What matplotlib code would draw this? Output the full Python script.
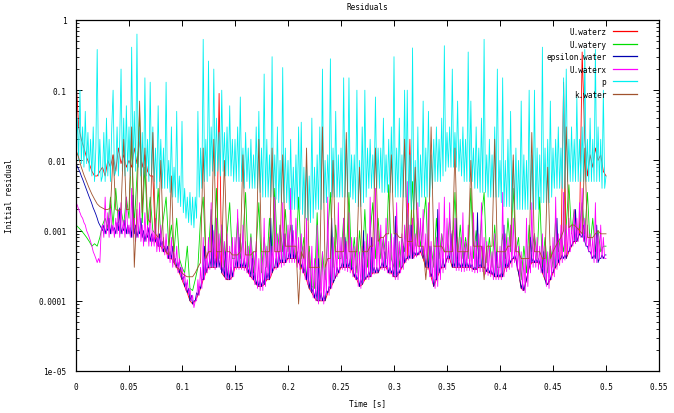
import numpy as np
import matplotlib
matplotlib.use("Agg")
import matplotlib.pyplot as plt
from matplotlib.ticker import FixedLocator, LogLocator, NullFormatter

# time span (s); each series is sampled uniformly over it
t_start, t_end = 0.0, 0.5

U_waterz = [
    0.15, 0.03, 0.02, 0.015, 0.011, 0.009, 0.007, 0.006, 0.006, 0.007,
    0.008, 0.006, 0.01, 0.008, 0.012, 0.007, 0.015, 0.009, 0.012, 0.008,
    0.01, 0.008, 0.015, 0.009, 0.02, 0.008, 0.012, 0.007, 0.006, 0.006,
    0.0007, 0.0006, 0.0006, 0.0005, 0.0005, 0.0004, 0.0004, 0.00035, 0.0003, 0.00025,
    0.0002, 0.00016, 0.00013, 0.0001, 0.00009, 0.0001, 0.00012, 0.00015, 0.0002, 0.00025,
    0.0003, 0.0003, 0.0003, 0.0003, 0.09, 0.00025, 0.00022, 0.0002, 0.0002, 0.00022,
    0.0003, 0.0003, 0.0003, 0.0003, 0.0003, 0.00025, 0.00022, 0.0002, 0.00017, 0.00016,
    0.00016, 0.00017, 0.0002, 0.0002, 0.00025, 0.0003, 0.0003, 0.00035, 0.00035, 0.00035,
    0.0004, 0.0004, 0.0004, 0.0004, 0.00035, 0.0003, 0.00025, 0.0002, 0.00015, 0.00013,
    0.00011, 0.0001, 0.0001, 0.0001, 0.0001, 0.00013, 0.00015, 0.00018, 0.00022, 0.00025,
    0.0003, 0.0003, 0.0003, 0.0003, 0.00028, 0.00022, 0.0002, 0.00016, 0.00017, 0.0002,
    0.00022, 0.00022, 0.00025, 0.00025, 0.00025, 0.0003, 0.0003, 0.0003, 0.00025, 0.00025,
    0.00022, 0.00022, 0.00025, 0.0003, 0.00035, 0.0004, 0.02, 0.0004, 0.00045, 0.00045,
    0.0005, 0.0004, 0.0003, 0.0003, 0.00022, 0.00016, 0.0002, 0.00025, 0.0003, 0.0003,
    0.0004, 0.0004, 0.0003, 0.0003, 0.0003, 0.0003, 0.0003, 0.0003, 0.0003, 0.0003,
    0.00028, 0.00028, 0.0003, 0.0003, 0.0003, 0.00026, 0.00025, 0.00024, 0.00022, 0.00022,
    0.00022, 0.00022, 0.0003, 0.0003, 0.00035, 0.0004, 0.0004, 0.00025, 0.00015, 0.00014,
    0.0002, 0.0003, 0.00035, 0.00035, 0.00035, 0.00035, 0.00025, 0.0002, 0.00017, 0.0002,
    0.00025, 0.0003, 0.00035, 0.0004, 0.13, 0.0004, 0.0005, 0.0006, 0.0007, 0.0007,
    0.0009, 0.35, 0.02, 0.006, 0.012, 0.008, 0.015, 0.01, 0.012, 0.007,
    0.006]

U_watery = [
    0.0012, 0.0011, 0.001, 0.0009, 0.0008, 0.0007, 0.0006, 0.00065, 0.0006, 0.0008,
    0.0012, 0.0015, 0.0011, 0.003, 0.0012, 0.004, 0.0013, 0.002, 0.0012, 0.003,
    0.0015, 0.02, 0.0012, 0.006, 0.05, 0.0013, 0.008, 0.0011, 0.003, 0.001,
    0.0009, 0.004, 0.0008, 0.0015, 0.003, 0.0006, 0.0012, 0.0005, 0.0015, 0.0004,
    0.0003, 0.00025, 0.0006, 0.00015, 0.00014, 0.0002, 0.0003, 0.0015, 0.003, 0.0004,
    0.0005, 0.002, 0.0004, 0.004, 0.0004, 0.0012, 0.0003, 0.0009, 0.0025, 0.0004,
    0.0004, 0.0015, 0.0004, 0.0008, 0.0035, 0.0003, 0.0009, 0.00025, 0.0006, 0.0025,
    0.00025, 0.0008, 0.0003, 0.0015, 0.0005, 0.004, 0.0005, 0.0012, 0.0005, 0.002,
    0.0005, 0.0012, 0.0005, 0.0004, 0.003, 0.0004, 0.0008, 0.0002, 0.0006, 0.00016,
    0.00015, 0.0018, 0.00014, 0.0005, 0.0002, 0.0009, 0.0035, 0.0003, 0.0012, 0.0004,
    0.0004, 0.0015, 0.0004, 0.0035, 0.0003, 0.0008, 0.00025, 0.001, 0.0003, 0.002,
    0.0003, 0.0009, 0.0025, 0.0004, 0.0015, 0.0004, 0.0008, 0.0004, 0.0045, 0.0004,
    0.0003, 0.0012, 0.0003, 0.0008, 0.0005, 0.002, 0.0006, 0.005, 0.0006, 0.0015,
    0.0006, 0.0012, 0.003, 0.0003, 0.0006, 0.0003, 0.0015, 0.0004, 0.0009, 0.0005,
    0.0005, 0.0015, 0.0005, 0.0035, 0.0004, 0.0012, 0.0004, 0.0008, 0.0004, 0.004,
    0.0004, 0.001, 0.0004, 0.0015, 0.0035, 0.00035, 0.0008, 0.0003, 0.0012, 0.0003,
    0.0003, 0.0009, 0.0004, 0.0015, 0.0005, 0.004, 0.0005, 0.0008, 0.0002, 0.0006,
    0.00025, 0.0012, 0.0005, 0.0009, 0.0004, 0.003, 0.0003, 0.0008, 0.00025, 0.0006,
    0.0003, 0.0015, 0.0005, 0.0009, 0.0005, 0.0012, 0.0045, 0.0009, 0.002, 0.001,
    0.0011, 0.0025, 0.0009, 0.0035, 0.0006, 0.0015, 0.0005, 0.001, 0.0005, 0.0006,
    0.0006]

epsilon_water = [
    0.009, 0.0082, 0.0075, 0.0068, 0.006, 0.0054, 0.0048, 0.0043, 0.0038, 0.0034,
    0.003, 0.0027, 0.0024, 0.0021, 0.0019, 0.0017, 0.0015, 0.0013, 0.0012, 0.0011,
    0.001, 0.0012, 0.0009, 0.0011, 0.001, 0.0015, 0.0009, 0.0012, 0.001, 0.0011,
    0.0009, 0.0013, 0.001, 0.0021, 0.0009, 0.0011, 0.001, 0.0014, 0.0009, 0.0012,
    0.0009, 0.0011, 0.0008, 0.0032, 0.0009, 0.0012, 0.0008, 0.001, 0.0009, 0.0015,
    0.0008, 0.001, 0.0007, 0.0009, 0.0008, 0.0011, 0.0007, 0.0009, 0.0007, 0.0008,
    0.0007, 0.0008, 0.0006, 0.0009, 0.0006, 0.0007, 0.0005, 0.0006, 0.0005, 0.0006,
    0.0004, 0.0005, 0.0004, 0.0006, 0.00035, 0.0004, 0.0003, 0.00035, 0.00025, 0.0003,
    0.0002, 0.00022, 0.00016, 0.00018, 0.00013, 0.00015, 0.0001, 0.00012, 0.00009, 0.0001,
    0.0001, 0.00013, 0.00012, 0.00016, 0.00015, 0.0002, 0.0002, 0.0006, 0.00025, 0.0003,
    0.0003, 0.0004, 0.0003, 0.0012, 0.0003, 0.0004, 0.0003, 0.0005, 0.0003, 0.0004,
    0.00025, 0.0003, 0.00022, 0.0005, 0.0002, 0.0003, 0.0002, 0.0003, 0.00022, 0.0003,
    0.0003, 0.0004, 0.0003, 0.0008, 0.0003, 0.00035, 0.0003, 0.0004, 0.0003, 0.00035,
    0.00025, 0.0003, 0.00022, 0.0004, 0.0002, 0.00025, 0.00017, 0.0002, 0.00016, 0.0002,
    0.00016, 0.0002, 0.00017, 0.0003, 0.0002, 0.00025, 0.0002, 0.0015, 0.00025, 0.0003,
    0.0003, 0.0004, 0.0003, 0.0005, 0.00035, 0.0004, 0.00035, 0.0009, 0.00035, 0.0004,
    0.0004, 0.0005, 0.0004, 0.0012, 0.0004, 0.0005, 0.0004, 0.0005, 0.00035, 0.0004,
    0.0003, 0.00035, 0.00025, 0.0003, 0.0002, 0.0003, 0.00015, 0.0002, 0.00013, 0.00015,
    0.00011, 0.00014, 0.0001, 0.0004, 0.0001, 0.00013, 0.0001, 0.00012, 0.0001, 0.00014,
    0.00013, 0.00016, 0.00015, 0.0015, 0.00018, 0.0002, 0.00022, 0.0003, 0.00025, 0.0003,
    0.0003, 0.00035, 0.0003, 0.0008, 0.0003, 0.00035, 0.0003, 0.0004, 0.00028, 0.0003,
    0.00022, 0.00025, 0.0002, 0.00022, 0.00016, 0.0002, 0.00017, 0.001, 0.0002, 0.00022,
    0.00022, 0.00026, 0.00022, 0.0008, 0.00025, 0.0003, 0.00025, 0.0003, 0.00025, 0.0003,
    0.0003, 0.00035, 0.0003, 0.0005, 0.0003, 0.00032, 0.00025, 0.0003, 0.00025, 0.00028,
    0.00022, 0.0016, 0.00022, 0.00026, 0.00025, 0.0003, 0.0003, 0.0006, 0.00035, 0.0004,
    0.0004, 0.00045, 0.0004, 0.0012, 0.0004, 0.0005, 0.00045, 0.0005, 0.00045, 0.0005,
    0.0005, 0.0006, 0.0004, 0.0005, 0.0003, 0.0004, 0.0003, 0.0006, 0.00022, 0.00025,
    0.00016, 0.0002, 0.0002, 0.002, 0.00025, 0.0003, 0.0003, 0.0004, 0.0003, 0.00035,
    0.0004, 0.00045, 0.0004, 0.0009, 0.0003, 0.00035, 0.0003, 0.0015, 0.0003, 0.00035,
    0.0003, 0.00035, 0.0003, 0.0005, 0.0003, 0.00035, 0.0003, 0.00035, 0.0003, 0.00033,
    0.00028, 0.0003, 0.00028, 0.0018, 0.0003, 0.00033, 0.0003, 0.0006, 0.0003, 0.0003,
    0.00026, 0.0003, 0.00025, 0.00028, 0.00024, 0.00026, 0.00022, 0.0005, 0.00022, 0.00024,
    0.00022, 0.00025, 0.00022, 0.0012, 0.0003, 0.00035, 0.0003, 0.0004, 0.00035, 0.0004,
    0.0004, 0.00045, 0.0004, 0.0003, 0.00025, 0.0002, 0.00015, 0.00018, 0.00014, 0.00017,
    0.0002, 0.00025, 0.0003, 0.0008, 0.00035, 0.0004, 0.00035, 0.0004, 0.00035, 0.0004,
    0.00035, 0.0003, 0.00025, 0.0005, 0.0002, 0.00017, 0.00017, 0.0002, 0.0002, 0.00025,
    0.00025, 0.0003, 0.0003, 0.0015, 0.00035, 0.0004, 0.0004, 0.00045, 0.0004, 0.00045,
    0.0004, 0.0005, 0.0005, 0.0006, 0.0006, 0.0007, 0.0007, 0.002, 0.0007, 0.0008,
    0.0009, 0.00085, 0.0008, 0.0012, 0.0007, 0.0006, 0.0006, 0.0005, 0.0005, 0.00045,
    0.0004, 0.00045, 0.0004, 0.0012, 0.00035, 0.0004, 0.0004, 0.00045, 0.0004, 0.00045,
    0.00045]

U_waterx = [
    0.0025, 0.0023, 0.002, 0.0018, 0.0016, 0.0015, 0.0013, 0.0012, 0.001, 0.0009,
    0.0008, 0.0007, 0.0006, 0.0005, 0.00045, 0.0004, 0.00035, 0.0004, 0.00035, 0.001,
    0.0012, 0.0008, 0.003, 0.0009, 0.0018, 0.0008, 0.0025, 0.0009, 0.0012, 0.0008,
    0.0015, 0.0009, 0.002, 0.0008, 0.0025, 0.0009, 0.0014, 0.0008, 0.003, 0.0009,
    0.0012, 0.0008, 0.004, 0.0008, 0.0015, 0.0007, 0.002, 0.0008, 0.0025, 0.0007,
    0.0012, 0.0006, 0.0018, 0.0007, 0.0012, 0.0006, 0.002, 0.0006, 0.001, 0.0006,
    0.0015, 0.0005, 0.0009, 0.0005, 0.0012, 0.0005, 0.0008, 0.00045, 0.0009, 0.0004,
    0.0006, 0.00035, 0.0008, 0.0003, 0.0005, 0.0003, 0.0006, 0.00025, 0.0004, 0.00022,
    0.0003, 0.00018, 0.00025, 0.00014, 0.0002, 0.00012, 0.00015, 0.0001, 0.00012, 0.00008,
    0.0001, 0.0001, 0.0002, 0.00012, 0.0003, 0.00015, 0.0008, 0.0002, 0.0005, 0.00025,
    0.0008, 0.00028, 0.0025, 0.0003, 0.001, 0.00028, 0.0015, 0.0003, 0.0009, 0.00028,
    0.0012, 0.00024, 0.0007, 0.0002, 0.0009, 0.0002, 0.0006, 0.0002, 0.0008, 0.00022,
    0.0008, 0.00028, 0.002, 0.00028, 0.0009, 0.00028, 0.0012, 0.00027, 0.0007, 0.00025,
    0.0006, 0.00022, 0.0008, 0.0002, 0.0005, 0.00017, 0.0007, 0.00015, 0.0004, 0.00014,
    0.0005, 0.00014, 0.0015, 0.00016, 0.0006, 0.0002, 0.0008, 0.00022, 0.0006, 0.00027,
    0.003, 0.00028, 0.0009, 0.0003, 0.0012, 0.0003, 0.0025, 0.00032, 0.0009, 0.00035,
    0.0012, 0.00035, 0.004, 0.00035, 0.001, 0.00035, 0.0015, 0.0003, 0.0008, 0.00028,
    0.0009, 0.00025, 0.0006, 0.0002, 0.0015, 0.00017, 0.0005, 0.00014, 0.0006, 0.00011,
    0.0004, 0.0001, 0.0012, 0.00009, 0.0003, 0.0001, 0.0005, 0.00009, 0.0003, 0.00012,
    0.003, 0.00012, 0.0005, 0.00015, 0.0008, 0.0002, 0.0006, 0.00022, 0.0025, 0.00025,
    0.0008, 0.00028, 0.0015, 0.00027, 0.0007, 0.00026, 0.0018, 0.00025, 0.0008, 0.00022,
    0.0006, 0.0002, 0.0008, 0.00016, 0.0005, 0.00015, 0.0006, 0.00018, 0.0007, 0.0002,
    0.0009, 0.0002, 0.003, 0.00022, 0.0008, 0.00024, 0.004, 0.00025, 0.001, 0.00027,
    0.0012, 0.00028, 0.0008, 0.00027, 0.0015, 0.00025, 0.0007, 0.00024, 0.0009, 0.00022,
    0.0008, 0.0002, 0.0025, 0.0002, 0.0007, 0.00025, 0.0009, 0.00028, 0.0012, 0.00035,
    0.005, 0.00038, 0.0012, 0.0004, 0.0015, 0.0004, 0.0009, 0.00042, 0.0025, 0.00045,
    0.0015, 0.00045, 0.002, 0.00035, 0.0009, 0.00028, 0.0025, 0.00022, 0.0007, 0.00018,
    0.0006, 0.00015, 0.0008, 0.00016, 0.0025, 0.0002, 0.0009, 0.00025, 0.003, 0.00028,
    0.0015, 0.00035, 0.0025, 0.00035, 0.001, 0.0003, 0.0015, 0.00027, 0.0008, 0.00027,
    0.0008, 0.00026, 0.0018, 0.00026, 0.0007, 0.00027, 0.0012, 0.00027, 0.0006, 0.00026,
    0.0018, 0.00025, 0.0007, 0.00025, 0.0009, 0.00026, 0.0025, 0.00026, 0.0008, 0.00024,
    0.0007, 0.00023, 0.0006, 0.00022, 0.0005, 0.0002, 0.0009, 0.0002, 0.0005, 0.0002,
    0.0006, 0.0002, 0.0035, 0.00022, 0.0009, 0.00026, 0.0008, 0.00028, 0.0012, 0.0003,
    0.0015, 0.00035, 0.0008, 0.00028, 0.0006, 0.0002, 0.0005, 0.00014, 0.0004, 0.00013,
    0.0015, 0.00016, 0.0006, 0.00025, 0.0025, 0.0003, 0.0009, 0.0003, 0.0008, 0.00028,
    0.0006, 0.00025, 0.0009, 0.00022, 0.0006, 0.00016, 0.0005, 0.00015, 0.0006, 0.0002,
    0.0008, 0.00022, 0.003, 0.00028, 0.0009, 0.00032, 0.0012, 0.00035, 0.0035, 0.00038,
    0.0012, 0.00045, 0.0015, 0.0005, 0.0012, 0.0006, 0.002, 0.00065, 0.0015, 0.0007,
    0.0025, 0.0008, 0.004, 0.0007, 0.0015, 0.0006, 0.0012, 0.0005, 0.0009, 0.0004,
    0.0008, 0.00035, 0.0025, 0.00035, 0.0009, 0.00038, 0.0012, 0.0004, 0.0008, 0.0004,
    0.0004]

p = [
    0.015, 0.04, 0.01, 0.1, 0.009, 0.03, 0.008, 0.05, 0.009, 0.025,
    0.007, 0.02, 0.006, 0.03, 0.005, 0.015, 0.38, 0.006, 0.02, 0.005,
    0.006, 0.025, 0.005, 0.04, 0.006, 0.02, 0.005, 0.03, 0.1, 0.006,
    0.007, 0.03, 0.006, 0.02, 0.2, 0.007, 0.04, 0.006, 0.06, 0.007,
    0.03, 0.006, 0.41, 0.008, 0.05, 0.007, 0.63, 0.008, 0.03, 0.006,
    0.025, 0.005, 0.15, 0.006, 0.02, 0.005, 0.13, 0.006, 0.03, 0.005,
    0.015, 0.004, 0.06, 0.005, 0.02, 0.004, 0.015, 0.004, 0.13, 0.004,
    0.01, 0.0035, 0.03, 0.003, 0.008, 0.003, 0.05, 0.0025, 0.006, 0.0022,
    0.036, 0.0018, 0.004, 0.0015, 0.003, 0.0013, 0.0035, 0.0012, 0.003, 0.0011,
    0.003, 0.0015, 0.05, 0.003, 0.015, 0.004, 0.53, 0.005, 0.02, 0.005,
    0.26, 0.006, 0.03, 0.007, 0.2, 0.006, 0.04, 0.007, 0.025, 0.006,
    0.1, 0.007, 0.025, 0.006, 0.03, 0.006, 0.06, 0.006, 0.02, 0.005,
    0.02, 0.005, 0.03, 0.005, 0.08, 0.005, 0.015, 0.004, 0.025, 0.005,
    0.015, 0.004, 0.02, 0.004, 0.012, 0.004, 0.03, 0.004, 0.05, 0.0035,
    0.015, 0.003, 0.17, 0.003, 0.02, 0.003, 0.012, 0.003, 0.3, 0.003,
    0.012, 0.0028, 0.03, 0.0025, 0.01, 0.0025, 0.21, 0.0025, 0.015, 0.0025,
    0.01, 0.002, 0.02, 0.002, 0.008, 0.002, 0.012, 0.002, 0.03, 0.002,
    0.035, 0.0017, 0.008, 0.0015, 0.01, 0.0014, 0.006, 0.0013, 0.04, 0.0015,
    0.008, 0.002, 0.012, 0.002, 0.03, 0.002, 0.2, 0.0025, 0.01, 0.0025,
    0.012, 0.003, 0.28, 0.003, 0.015, 0.003, 0.05, 0.003, 0.012, 0.003,
    0.015, 0.003, 0.15, 0.003, 0.02, 0.003, 0.15, 0.003, 0.012, 0.0028,
    0.012, 0.0025, 0.1, 0.0022, 0.01, 0.0022, 0.03, 0.0025, 0.1, 0.003,
    0.015, 0.004, 0.02, 0.004, 0.012, 0.004, 0.08, 0.004, 0.015, 0.004,
    0.015, 0.0035, 0.04, 0.0035, 0.012, 0.0035, 0.02, 0.0035, 0.03, 0.0035,
    0.3, 0.003, 0.015, 0.003, 0.04, 0.003, 0.012, 0.003, 0.1, 0.003,
    0.1, 0.0025, 0.012, 0.002, 0.4, 0.002, 0.01, 0.002, 0.03, 0.0022,
    0.012, 0.003, 0.07, 0.003, 0.015, 0.003, 0.05, 0.003, 0.012, 0.004,
    0.02, 0.005, 0.03, 0.005, 0.02, 0.005, 0.04, 0.006, 0.43, 0.007,
    0.025, 0.008, 0.03, 0.008, 0.2, 0.008, 0.025, 0.008, 0.07, 0.007,
    0.02, 0.006, 0.03, 0.005, 0.02, 0.005, 0.35, 0.005, 0.07, 0.005,
    0.015, 0.004, 0.03, 0.004, 0.015, 0.0035, 0.04, 0.0035, 0.53, 0.0035,
    0.012, 0.003, 0.02, 0.003, 0.012, 0.003, 0.03, 0.003, 0.2, 0.003,
    0.01, 0.0025, 0.15, 0.0022, 0.01, 0.0022, 0.02, 0.0022, 0.05, 0.002,
    0.01, 0.002, 0.015, 0.002, 0.01, 0.002, 0.07, 0.002, 0.012, 0.002,
    0.01, 0.002, 0.1, 0.002, 0.012, 0.002, 0.1, 0.002, 0.015, 0.002,
    0.012, 0.0025, 0.41, 0.0025, 0.015, 0.0025, 0.02, 0.0025, 0.07, 0.003,
    0.015, 0.004, 0.02, 0.004, 0.03, 0.004, 0.015, 0.004, 0.15, 0.004,
    0.2, 0.005, 0.02, 0.005, 0.03, 0.005, 0.02, 0.005, 0.08, 0.005,
    0.02, 0.005, 0.03, 0.005, 0.38, 0.005, 0.02, 0.005, 0.04, 0.005,
    0.02, 0.005, 0.38, 0.005, 0.03, 0.005, 0.02, 0.004, 0.1, 0.004,
    0.006]

k_water = [
    0.014, 0.011, 0.008, 0.0062, 0.005, 0.004, 0.0033, 0.0028, 0.0024, 0.0022,
    0.0021, 0.002, 0.002, 0.0021, 0.012, 0.002, 0.0019, 0.002, 0.02, 0.002,
    0.002, 0.03, 0.0003, 0.002, 0.07, 0.0018, 0.015, 0.0015, 0.0013, 0.025,
    0.0009, 0.0008, 0.01, 0.0006, 0.0005, 0.00045, 0.006, 0.00035, 0.0003, 0.00028,
    0.00025, 0.00023, 0.00022, 0.00022, 0.00022, 0.00025, 0.0003, 0.00035, 0.015, 0.0004,
    0.0005, 0.0005, 0.02, 0.0005, 0.0005, 0.0005, 0.01, 0.0005, 0.0005, 0.00045,
    0.00045, 0.00045, 0.0005, 0.012, 0.00045, 0.00045, 0.00045, 0.0005, 0.0005, 0.02,
    0.0005, 0.0005, 0.0005, 0.0005, 0.015, 0.0005, 0.0005, 0.0005, 0.012, 0.0006,
    0.0006, 0.0006, 0.0006, 0.0006, 0.00009, 0.0005, 0.0004, 0.015, 0.0003, 0.0003,
    0.0003, 0.0003, 0.0003, 0.03, 0.0003, 0.0004, 0.0004, 0.01, 0.0005, 0.0005,
    0.0005, 0.0005, 0.025, 0.0005, 0.0005, 0.0005, 0.0005, 0.008, 0.0005, 0.0005,
    0.0005, 0.0006, 0.0006, 0.015, 0.0007, 0.0008, 0.0008, 0.0009, 0.0009, 0.012,
    0.0009, 0.0009, 0.0008, 0.0008, 0.02, 0.0007, 0.0007, 0.0007, 0.008, 0.0006,
    0.0006, 0.0006, 0.0002, 0.0006, 0.03, 0.0006, 0.0006, 0.0006, 0.0006, 0.0005,
    0.0005, 0.0005, 0.0005, 0.015, 0.0005, 0.0005, 0.0005, 0.0005, 0.0005, 0.01,
    0.0006, 0.0006, 0.0006, 0.0006, 0.0002, 0.0006, 0.0006, 0.0006, 0.02, 0.0005,
    0.0005, 0.0005, 0.0005, 0.0006, 0.0006, 0.012, 0.0005, 0.0005, 0.0004, 0.0004,
    0.0004, 0.0004, 0.025, 0.0005, 0.0005, 0.0005, 0.0004, 0.0004, 0.008, 0.0004,
    0.0005, 0.0006, 0.0007, 0.0008, 0.001, 0.03, 0.0011, 0.0012, 0.0012, 0.0011,
    0.001, 0.0009, 0.015, 0.0008, 0.0008, 0.0008, 0.0009, 0.001, 0.0009, 0.0009,
    0.0009]

series_names = ["U.waterz", "U.watery", "epsilon.water", "U.waterx", "p", "k.water"]
series_values = [U_waterz, U_watery, epsilon_water, U_waterx, p, k_water]
series_colors = ["#ff0000", "#00dd00", "#0000b0", "#ff00ff", "#00f0f0", "#a0522d"]

x_ticks = [0, 0.05, 0.1, 0.15, 0.2, 0.25, 0.3, 0.35, 0.4, 0.45, 0.5, 0.55]
x_tick_labels = ["0", "0.05", "0.1", "0.15", "0.2", "0.25", "0.3", "0.35", "0.4", "0.45", "0.5", "0.55"]
y_ticks = [1e-5, 1e-4, 1e-3, 1e-2, 1e-1, 1]
y_tick_labels = ["1e-05", "0.0001", "0.001", "0.01", "0.1", "1"]

font = "DejaVu Sans Mono"
fs = 5.6

fig = plt.figure(figsize=(6.74, 4.14), dpi=100)
ax = fig.add_axes([76 / 674, 1 - 372 / 414, (659 - 76) / 674, (372 - 21) / 414])

for name, vals, col in zip(series_names, series_values, series_colors):
    time = np.linspace(t_start, t_end, len(vals))
    ax.plot(time, vals, color=col, lw=0.6, label=name)

ax.set_yscale("log")
ax.set_xlim(0, 0.55)
ax.set_ylim(1e-5, 1)
ax.xaxis.set_major_locator(FixedLocator(x_ticks))
ax.set_xticklabels(x_tick_labels, fontsize=fs, family=font)
ax.yaxis.set_major_locator(FixedLocator(y_ticks))
ax.set_yticklabels(y_tick_labels, fontsize=fs, family=font)
ax.yaxis.set_minor_locator(LogLocator(base=10, subs=(2, 3, 4, 5, 6, 7, 8, 9)))
ax.yaxis.set_minor_formatter(NullFormatter())
ax.tick_params(which="major", direction="in", length=4, width=0.7, top=True, right=True, pad=7)
ax.tick_params(which="minor", direction="in", length=2, width=0.6, top=True, right=True)
ax.tick_params(axis="x", pad=8)
for s in ax.spines.values():
    s.set_linewidth(0.9)

ax.set_xlabel("Time [s]", fontsize=fs, family=font, labelpad=5)
ax.set_ylabel("Initial residual", fontsize=fs, family=font, labelpad=18)
ax.set_title("Residuals", fontsize=fs, family=font, pad=8)

leg = ax.legend(loc="upper right", bbox_to_anchor=(0.975, 1.0), frameon=False,
                markerfirst=False, handlelength=3.2, handletextpad=0.8,
                labelspacing=0.45, prop={"family": font, "size": fs})
for lh in leg.get_lines():
    lh.set_linewidth(0.9)

fig.savefig("out.png", dpi=100)
